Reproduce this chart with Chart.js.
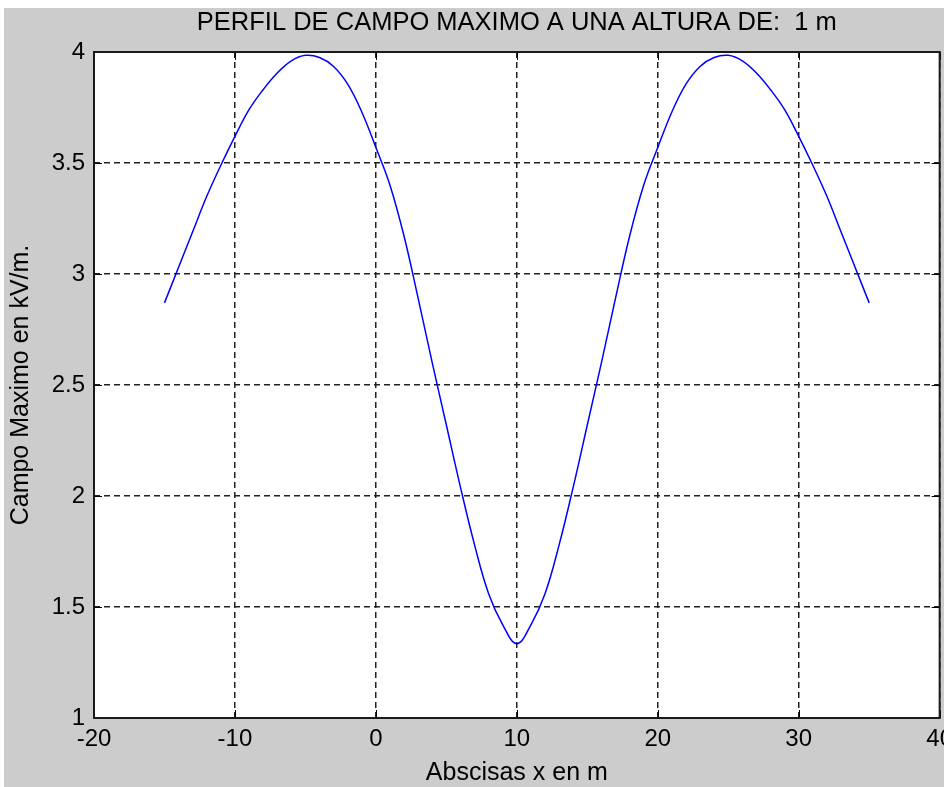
<!DOCTYPE html>
<html>
<head>
<meta charset="utf-8">
<script src="https://cdn.jsdelivr.net/npm/chart.js@4/dist/chart.umd.min.js"></script>
<style>
  html, body { margin: 0; padding: 0; background: #ffffff; overflow: hidden; }
  #wrap { position: relative; width: 944px; height: 787px; overflow: hidden; }
  #wrap canvas { position: absolute; left: 0; top: 0; }
</style>
</head>
<body>
<div id="wrap"><canvas id="perfilChart" width="960" height="787"></canvas></div>
<script>
// ==========================================================================
// 1. DATOS
// ==========================================================================
const abscisas = [
  -15, -14, -13, -12, -11, -10, -9, -8, -7, -6, -5, -4, -3, -2, -1,
  0, 1, 2, 3, 4, 5, 6, 7, 8, 9, 10, 11, 12, 13, 14, 15, 16, 17, 18, 19,
  20, 21, 22, 23, 24, 25, 26, 27, 28, 29, 30, 31, 32, 33, 34, 35
];
const campoMaximo = [
  2.87, 3.03, 3.19, 3.35, 3.49, 3.62, 3.74, 3.83, 3.905, 3.96, 3.985, 3.975, 3.935, 3.855, 3.73,
  3.57, 3.40, 3.17, 2.89, 2.60, 2.32, 2.04, 1.78, 1.56, 1.42, 1.335, 1.42, 1.56, 1.78, 2.04, 2.32, 2.60, 2.89, 3.17, 3.40,
  3.57, 3.73, 3.855, 3.935, 3.975, 3.985, 3.96, 3.905, 3.83, 3.74, 3.62, 3.49, 3.35, 3.19, 3.03, 2.87
];
const xTicks = [-20, -10, 0, 10, 20, 30, 40];
const yTicks = [1, 1.5, 2, 2.5, 3, 3.5, 4];

const tituloGrafico = 'PERFIL DE CAMPO MAXIMO A UNA ALTURA DE:  1 m';
const tituloX = 'Abscisas x en m';
const tituloY = 'Campo Maximo en kV/m.';

const FONT_FAMILY = '"Liberation Sans", Arial, Helvetica, sans-serif';

// ==========================================================================
// 2. PLUGINS (fondo gris tipo figura, titulo centrado en los ejes, caja)
// ==========================================================================
const figureBackground = {
  id: 'figureBackground',
  beforeDraw(chart) {
    const { ctx, chartArea } = chart;
    ctx.save();
    ctx.fillStyle = '#cccccc';
    ctx.fillRect(4, 8, chart.width - 4, chart.height - 8);
    ctx.fillStyle = '#ffffff';
    ctx.fillRect(chartArea.left, chartArea.top, chartArea.right - chartArea.left, chartArea.bottom - chartArea.top);
    // titulo centrado sobre el area de ejes (como en MATLAB)
    ctx.fillStyle = '#000000';
    ctx.font = '25.5px ' + FONT_FAMILY;
    ctx.textAlign = 'center';
    ctx.textBaseline = 'middle';
    ctx.fillText(tituloGrafico, (chartArea.left + chartArea.right) / 2, 23);
    ctx.restore();
  }
};

const axesBox = {
  id: 'axesBox',
  afterDraw(chart) {
    const { ctx, chartArea } = chart;
    const xs = chart.scales.x;
    const ys = chart.scales.y;
    const len = 8;
    ctx.save();
    ctx.strokeStyle = '#000000';
    ctx.lineWidth = 1;
    ctx.beginPath();
    xs.ticks.forEach(t => {
      const px = Math.round(xs.getPixelForValue(t.value)) + 0.5;
      ctx.moveTo(px, chartArea.bottom); ctx.lineTo(px, chartArea.bottom - len);
      ctx.moveTo(px, chartArea.top); ctx.lineTo(px, chartArea.top + len);
    });
    ys.ticks.forEach(t => {
      const py = Math.round(ys.getPixelForValue(t.value)) + 0.5;
      ctx.moveTo(chartArea.left, py); ctx.lineTo(chartArea.left + len, py);
      ctx.moveTo(chartArea.right, py); ctx.lineTo(chartArea.right - len, py);
    });
    ctx.stroke();
    ctx.lineWidth = 2;
    ctx.strokeStyle = '#1a1a1a';
    ctx.strokeRect(chartArea.left, chartArea.top, chartArea.right - chartArea.left, chartArea.bottom - chartArea.top);
    ctx.restore();
  }
};

// ==========================================================================
// 3. GRAFICO
// ==========================================================================
document.addEventListener('DOMContentLoaded', () => {
  const puntos = abscisas.map((x, i) => ({ x: x, y: campoMaximo[i] }));
  const ctx = document.getElementById('perfilChart').getContext('2d');

  new Chart(ctx, {
    type: 'line',
    data: {
      datasets: [{
        data: puntos,
        borderColor: '#0000ff',
        borderWidth: 1.5,
        pointRadius: 0,
        fill: false,
        tension: 0.4
      }]
    },
    options: {
      responsive: false,
      animation: false,
      devicePixelRatio: 1,
      layout: { padding: { left: 0, right: 0, top: 52, bottom: 0 } },
      plugins: {
        legend: { display: false },
        tooltip: { enabled: false },
        title: { display: false }
      },
      scales: {
        x: {
          type: 'linear',
          min: -20,
          max: 40,
          afterBuildTicks: scale => { scale.ticks = xTicks.map(v => ({ value: v })); },
          afterFit: scale => { scale.height = 69; },
          grid: { color: '#222222', lineWidth: 1.5, drawTicks: false },
          border: { display: false, dash: [6, 4] },
          ticks: {
            color: '#000000',
            padding: 7,
            maxRotation: 0,
            callback: v => String(v),
            font: { family: FONT_FAMILY, size: 24 }
          },
          title: {
            display: true,
            text: tituloX,
            color: '#000000',
            font: { family: FONT_FAMILY, size: 25, lineHeight: 1.1 },
            padding: { top: 0, bottom: 0 }
          }
        },
        y: {
          type: 'linear',
          min: 1,
          max: 4,
          afterBuildTicks: scale => { scale.ticks = yTicks.map(v => ({ value: v })); },
          afterFit: scale => { scale.width = 94; },
          grid: { color: '#222222', lineWidth: 1.5, drawTicks: false },
          border: { display: false, dash: [6, 4] },
          ticks: {
            color: '#000000',
            padding: 9,
            callback: v => String(v),
            font: { family: FONT_FAMILY, size: 24 }
          },
          title: {
            display: true,
            text: tituloY,
            color: '#000000',
            font: { family: FONT_FAMILY, size: 25, lineHeight: 1.2 },
            padding: { top: 6, bottom: 0 }
          }
        }
      }
    },
    plugins: [figureBackground, axesBox]
  });
});
</script>
</body>
</html>
